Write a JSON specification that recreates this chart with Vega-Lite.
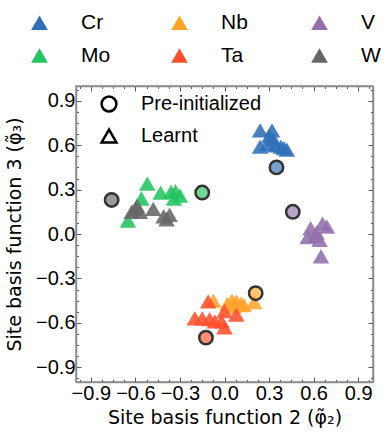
{
  "$schema": "https://vega.github.io/schema/vega-lite/v6.json",
  "width": 297,
  "height": 296,
  "autosize": {"type": "none"},
  "padding": {"left": 76, "top": 86, "right": 18, "bottom": 50},
  "config": {
    "view": {"stroke": "#8c8c8c", "strokeWidth": 1.5},
    "font": "Liberation Sans",
    "axis": {
      "domainColor": "#8c8c8c",
      "domainWidth": 1.5,
      "tickColor": "#555555",
      "tickWidth": 1,
      "grid": false,
      "labelFont": "Liberation Sans",
      "labelFontSize": 20,
      "labelColor": "black",
      "titleFont": "DejaVu Sans",
      "titleFontSize": 19,
      "titleFontWeight": "normal",
      "titleColor": "black"
    }
  },
  "data": {
    "values": [
      {"element": "Mo", "type": "Learnt", "x": -0.52, "y": 0.34},
      {"element": "Mo", "type": "Learnt", "x": -0.43, "y": 0.28},
      {"element": "Mo", "type": "Learnt", "x": -0.36, "y": 0.285},
      {"element": "Mo", "type": "Learnt", "x": -0.33, "y": 0.29},
      {"element": "Mo", "type": "Learnt", "x": -0.30, "y": 0.26},
      {"element": "Mo", "type": "Learnt", "x": -0.56, "y": 0.24},
      {"element": "Mo", "type": "Learnt", "x": -0.65, "y": 0.09},
      {"element": "Mo", "type": "Learnt", "x": -0.34, "y": 0.24},
      {"element": "W", "type": "Learnt", "x": -0.60, "y": 0.17},
      {"element": "W", "type": "Learnt", "x": -0.57, "y": 0.15},
      {"element": "W", "type": "Learnt", "x": -0.625, "y": 0.15},
      {"element": "W", "type": "Learnt", "x": -0.59, "y": 0.19},
      {"element": "W", "type": "Learnt", "x": -0.48, "y": 0.17},
      {"element": "W", "type": "Learnt", "x": -0.41, "y": 0.12},
      {"element": "W", "type": "Learnt", "x": -0.37, "y": 0.13},
      {"element": "W", "type": "Learnt", "x": -0.39, "y": 0.10},
      {"element": "Cr", "type": "Learnt", "x": 0.24, "y": 0.70},
      {"element": "Cr", "type": "Learnt", "x": 0.32, "y": 0.70},
      {"element": "Cr", "type": "Learnt", "x": 0.30, "y": 0.66},
      {"element": "Cr", "type": "Learnt", "x": 0.33, "y": 0.64},
      {"element": "Cr", "type": "Learnt", "x": 0.24, "y": 0.59},
      {"element": "Cr", "type": "Learnt", "x": 0.29, "y": 0.61},
      {"element": "Cr", "type": "Learnt", "x": 0.34, "y": 0.60},
      {"element": "Cr", "type": "Learnt", "x": 0.38, "y": 0.59},
      {"element": "Cr", "type": "Learnt", "x": 0.42, "y": 0.57},
      {"element": "Cr", "type": "Learnt", "x": 0.40, "y": 0.58},
      {"element": "V", "type": "Learnt", "x": 0.58, "y": 0.04},
      {"element": "V", "type": "Learnt", "x": 0.66, "y": 0.07},
      {"element": "V", "type": "Learnt", "x": 0.69, "y": 0.05},
      {"element": "V", "type": "Learnt", "x": 0.56, "y": -0.02},
      {"element": "V", "type": "Learnt", "x": 0.61, "y": -0.01},
      {"element": "V", "type": "Learnt", "x": 0.64, "y": -0.04},
      {"element": "V", "type": "Learnt", "x": 0.65, "y": -0.15},
      {"element": "V", "type": "Learnt", "x": 0.62, "y": 0.01},
      {"element": "Nb", "type": "Learnt", "x": 0.20, "y": -0.46},
      {"element": "Nb", "type": "Learnt", "x": 0.05, "y": -0.45},
      {"element": "Nb", "type": "Learnt", "x": 0.08, "y": -0.455},
      {"element": "Nb", "type": "Learnt", "x": 0.11, "y": -0.47},
      {"element": "Nb", "type": "Learnt", "x": 0.02, "y": -0.47},
      {"element": "Nb", "type": "Learnt", "x": -0.075, "y": -0.45},
      {"element": "Nb", "type": "Learnt", "x": 0.13, "y": -0.48},
      {"element": "Nb", "type": "Learnt", "x": 0.06, "y": -0.49},
      {"element": "Ta", "type": "Learnt", "x": -0.11, "y": -0.455},
      {"element": "Ta", "type": "Learnt", "x": -0.20, "y": -0.57},
      {"element": "Ta", "type": "Learnt", "x": -0.15, "y": -0.57},
      {"element": "Ta", "type": "Learnt", "x": -0.10, "y": -0.575},
      {"element": "Ta", "type": "Learnt", "x": 0.0, "y": -0.52},
      {"element": "Ta", "type": "Learnt", "x": 0.08, "y": -0.545},
      {"element": "Ta", "type": "Learnt", "x": -0.02, "y": -0.59},
      {"element": "Ta", "type": "Learnt", "x": 0.0, "y": -0.63},
      {"element": "Ta", "type": "Learnt", "x": -0.065, "y": -0.59},
      {"element": "Cr", "type": "Pre-initialized", "x": 0.35, "y": 0.45},
      {"element": "Mo", "type": "Pre-initialized", "x": -0.15, "y": 0.28},
      {"element": "Nb", "type": "Pre-initialized", "x": 0.21, "y": -0.40},
      {"element": "Ta", "type": "Pre-initialized", "x": -0.125, "y": -0.70},
      {"element": "V", "type": "Pre-initialized", "x": 0.46, "y": 0.15},
      {"element": "W", "type": "Pre-initialized", "x": -0.76, "y": 0.23}
    ]
  },
  "encoding": {
    "color": {
      "field": "element",
      "type": "nominal",
      "scale": {
        "domain": ["Cr", "Nb", "V", "Mo", "Ta", "W"],
        "range": ["#2e6fb7", "#ffa42b", "#9370ab", "#22c45e", "#ff4f2b", "#666666"]
      },
      "legend": {
        "orient": "none",
        "legendX": -47,
        "legendY": -74,
        "columns": 3,
        "direction": "horizontal",
        "title": null,
        "padding": 0,
        "symbolType": "triangle-up",
        "symbolSize": 280,
        "symbolOpacity": 1,
        "labelFont": "Liberation Sans",
        "labelFontSize": 21,
        "labelColor": "black",
        "labelOffset": 31,
        "columnPadding": 58,
        "rowPadding": 11,
        "gridAlign": "all",
        "encode": {
          "symbols": {
            "update": {
              "shape": {"value": "triangle-up"},
              "opacity": {"value": 1},
              "strokeWidth": {"value": 0}
            }
          }
        }
      }
    },
    "shape": {
      "field": "type",
      "type": "nominal",
      "scale": {"domain": ["Pre-initialized", "Learnt"], "range": ["circle", "triangle-up"]},
      "legend": {
        "orient": "none",
        "legendX": 23,
        "legendY": 8,
        "direction": "vertical",
        "title": null,
        "padding": 0,
        "symbolSize": 220,
        "symbolFillColor": "white",
        "symbolStrokeColor": "black",
        "symbolStrokeWidth": 2.5,
        "labelFont": "Liberation Sans",
        "labelFontSize": 20,
        "labelColor": "black",
        "labelOffset": 22,
        "rowPadding": 7,
        "encode": {
          "symbols": {
            "update": {
              "fill": {"value": "white"},
              "stroke": {"value": "black"},
              "strokeWidth": {"value": 2.5},
              "opacity": {"value": 1}
            }
          }
        }
      }
    }
  },
  "layer": [
    {
      "transform": [{"filter": "datum.type === 'Learnt'"}],
      "mark": {"type": "point", "filled": true, "size": 275, "opacity": 0.88, "strokeWidth": 0},
      "encoding": {
        "x": {
          "field": "x", "type": "quantitative",
          "scale": {"domain": [-1, 1], "nice": false, "zero": false},
          "axis": {
            "orient": "bottom",
            "title": "Site basis function 2 (φ̃₂)",
            "values": [-0.975, -0.9, -0.825, -0.75, -0.675, -0.6, -0.525, -0.45, -0.375, -0.3, -0.225, -0.15, -0.075, 0, 0.075, 0.15, 0.225, 0.3, 0.375, 0.45, 0.525, 0.6, 0.675, 0.75, 0.825, 0.9, 0.975],
            "labelExpr": "round(datum.value*40) % 12 === 0 ? format(datum.value, '.1f') : ''",
            "labelOverlap": false,
            "labelFlush": false,
            "tickSize": {"condition": {"test": "round(datum.value*40) % 12 === 0", "value": -5}, "value": -2.5},
            "labelPadding": 6,
            "titlePadding": 3
          }
        },
        "y": {
          "field": "y", "type": "quantitative",
          "scale": {"domain": [-1, 1], "nice": false, "zero": false},
          "axis": {
            "orient": "left",
            "title": "Site basis function 3 (φ̃₃)",
            "values": [-0.975, -0.9, -0.825, -0.75, -0.675, -0.6, -0.525, -0.45, -0.375, -0.3, -0.225, -0.15, -0.075, 0, 0.075, 0.15, 0.225, 0.3, 0.375, 0.45, 0.525, 0.6, 0.675, 0.75, 0.825, 0.9, 0.975],
            "labelExpr": "round(datum.value*40) % 12 === 0 ? format(datum.value, '.1f') : ''",
            "labelOverlap": false,
            "labelFlush": false,
            "tickSize": {"condition": {"test": "round(datum.value*40) % 12 === 0", "value": -5}, "value": -2.5},
            "labelPadding": 6,
            "titlePadding": 11
          }
        }
      }
    },
    {
      "transform": [{"filter": "datum.type === 'Pre-initialized'"}],
      "mark": {"type": "point", "filled": true, "size": 180, "fillOpacity": 0.65, "stroke": "#333333", "strokeWidth": 2.5, "strokeOpacity": 1},
      "encoding": {
        "x": {
          "field": "x", "type": "quantitative",
          "scale": {"domain": [-1, 1], "nice": false, "zero": false},
          "axis": {
            "orient": "top",
            "title": null,
            "labels": false,
            "values": [-0.975, -0.9, -0.825, -0.75, -0.675, -0.6, -0.525, -0.45, -0.375, -0.3, -0.225, -0.15, -0.075, 0, 0.075, 0.15, 0.225, 0.3, 0.375, 0.45, 0.525, 0.6, 0.675, 0.75, 0.825, 0.9, 0.975],
            "tickSize": {"condition": {"test": "round(datum.value*40) % 12 === 0", "value": -5}, "value": -2.5}
          }
        },
        "y": {
          "field": "y", "type": "quantitative",
          "scale": {"domain": [-1, 1], "nice": false, "zero": false},
          "axis": {
            "orient": "right",
            "title": null,
            "labels": false,
            "values": [-0.975, -0.9, -0.825, -0.75, -0.675, -0.6, -0.525, -0.45, -0.375, -0.3, -0.225, -0.15, -0.075, 0, 0.075, 0.15, 0.225, 0.3, 0.375, 0.45, 0.525, 0.6, 0.675, 0.75, 0.825, 0.9, 0.975],
            "tickSize": {"condition": {"test": "round(datum.value*40) % 12 === 0", "value": -5}, "value": -2.5}
          }
        }
      }
    }
  ],
  "resolve": {"axis": {"x": "independent", "y": "independent"}}
}
